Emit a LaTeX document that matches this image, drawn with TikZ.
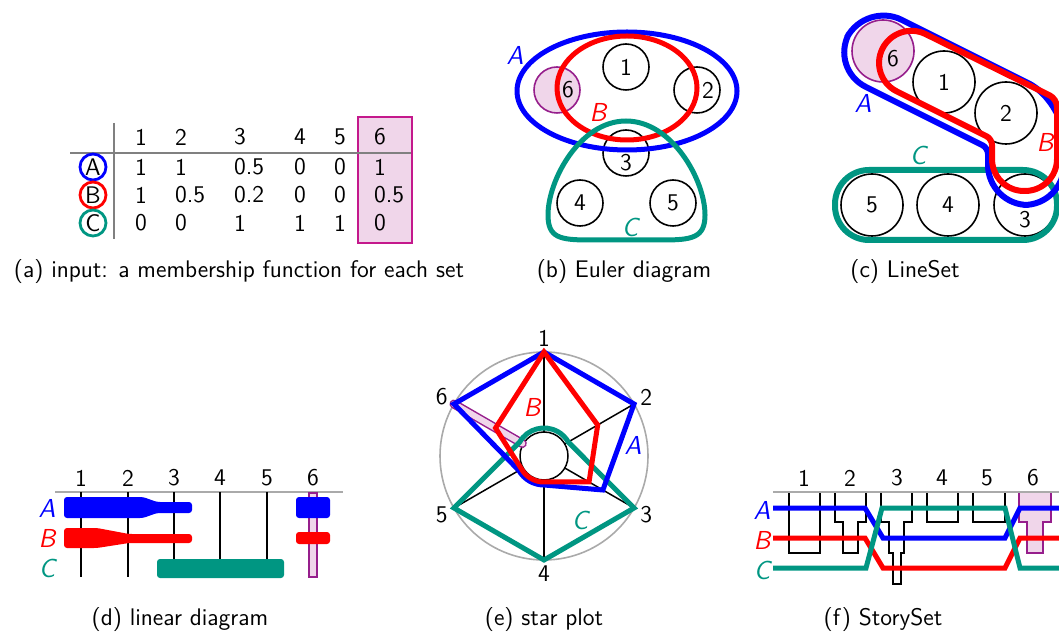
\documentclass[tikz,border=0pt]{standalone}
\usepackage{tikz}
\usetikzlibrary{arrows.meta, calc}
\definecolor{setblue}{RGB}{0,0,255}
\definecolor{setred}{RGB}{255,0,0}
\definecolor{setgreen}{RGB}{0,150,130}
\definecolor{sixfill}{RGB}{240,214,234}
\definecolor{sixline}{RGB}{150,30,140}
\definecolor{boxline}{RGB}{196,24,140}
\definecolor{rulegray}{RGB}{128,128,128}
\definecolor{axisgray}{RGB}{170,170,170}

\begin{document}
\begin{tikzpicture}[x=0.5pt, y=-0.5pt, font=\sffamily\fontsize{12}{14}\selectfont,
  elem/.style={circle, draw=black, line width=0.8pt, minimum size=23pt, inner sep=0pt},
  bigelem/.style={elem, minimum size=31pt},
  six/.style={fill=sixfill, draw=sixline},
  setlab/.style={font=\sffamily\itshape\fontsize{13}{15}\selectfont},
  setA/.style={setblue, line width=2.5pt},
  setB/.style={setred, line width=2.5pt},
  setC/.style={setgreen, line width=2.5pt},
  ring/.style={circle, line width=1.4pt, minimum size=13pt, inner sep=0pt},
  glyph/.style={black, line width=0.9pt}]

  \useasboundingbox (0,0) rectangle (1059,635);
  \clip (0,0) rectangle (1059,635);

  % ---------- (a) membership table ----------
  \filldraw[fill=sixfill, draw=boxline, line width=0.8pt] (358,117) rectangle (412,243);
  \draw[rulegray, line width=0.8pt] (114,123) -- (114,239);
  \draw[rulegray, line width=0.8pt] (70,153) -- (411,153);
  \foreach \c/\x in {1/128,2/168,3/227,4/287,5/327,6/367}
    \node[anchor=west] (h\c) at (\x,137) {\c};
  \foreach \s/\y/\vals in {A/167/{1,1,0.5,0,0,1}, B/195/{1,0.5,0.2,0,0,0.5}, C/223/{0,0,1,1,1,0}}
    \foreach \v [count=\c] in \vals {
      \pgfmathsetmacro\xx{{128,168,227,287,327,367}[\c-1]}
      \node[anchor=west] (\s\c) at (\xx,\y) {\v};
    }
  \node[ring, draw=setblue] (markA) at (93,167) {A};
  \node[ring, draw=setred] (markB) at (93,195) {B};
  \node[ring, draw=setgreen] (markC) at (93,223) {C};
  \node (capa) at (239,272) {(a) input: a membership function for each set};

  % ---------- (b) Euler diagram ----------
  \node[elem] (e1) at (626,67) {};
  \node[elem] (e2) at (697,90) {};
  \node[elem] (e3) at (626,153) {};
  \node[elem] (e4) at (580,203) {};
  \node[elem] (e5) at (673,203) {};
  \node[elem, six] (e6) at (557,90) {};
  \node (e1n) at (626,67) {1};
  \node (e2n) at (708,90) {2};
  \node (e3n) at (626,163) {3};
  \node (e4n) at (580,203) {4};
  \node (e5n) at (673,203) {5};
  \node (e6n) at (568,90) {6};
  \draw[setA] (627,91) ellipse [x radius=110, y radius=59];
  \draw[setB] (627,88) ellipse [x radius=70, y radius=52];
  \draw[setC] (626,121) .. controls (580,121) and (548,180) .. (548,215)
    .. controls (548,238) and (560,240) .. (590,240) -- (662,240)
    .. controls (692,240) and (705,238) .. (705,215)
    .. controls (705,180) and (672,121) .. (626,121) -- cycle;
  \node[setlab, setblue] (eA) at (515,55) {A};
  \node[setlab, setred] (eB) at (598,112) {B};
  \node[setlab, setgreen] (eC) at (630,227) {C};
  \node (capb) at (624,272) {(b) Euler diagram};

  % ---------- (c) LineSet ----------
  \node[bigelem, six] (l6) at (883,51) {};
  \node[bigelem] (l1) at (944,82) {};
  \node[bigelem] (l2) at (1006,113) {};
  \node[bigelem] (l5) at (872,205) {};
  \node[bigelem] (l4) at (948,205) {};
  \node[bigelem] (l3) at (1025,205) {};
  \node (l6n) at (893,59) {6};
  \node (l1n) at (944,82) {1};
  \node (l2n) at (1006,113) {2};
  \node (l5n) at (872,205) {5};
  \node (l4n) at (948,205) {4};
  \node (l3n) at (1025,220) {3};
  \draw[setC, line width=3pt, rounded corners=17pt] (835,170) rectangle (1057,240);
  \draw[setA, line width=3pt, rounded corners=20pt] (866,2) -- (1064,101) -- (1064,205)
    -- (988,205) [rounded corners=3pt] -- (988,148) [rounded corners=20pt] -- (830,69) -- cycle;
  \draw[setB, line width=3pt, rounded corners=16pt] (897,20) [rounded corners=4pt] -- (1057,99)
    [rounded corners=16pt] -- (1057,191) -- (992,191) [rounded corners=3pt] -- (992,139)
    [rounded corners=16pt] -- (868,77) -- cycle;
  \node[setlab, setblue] (lA) at (863,103) {A};
  \node[setlab, setred] (lB) at (1045,142) {B};
  \node[setlab, setgreen] (lC) at (918,155) {C};
  \node (capc) at (905,272) {(c) LineSet};

  % ---------- (d) linear diagram ----------
  \draw[axisgray, line width=0.8pt] (55,492) -- (343,492);
  \foreach \c/\x in {1/81,2/128,3/174,4/220,5/267,6/313}
    \node (d\c) at (\x,478) {\c};
  \draw[black, line width=1pt] (81,492) -- (81,577);
  \draw[black, line width=1pt] (128,492) -- (128,577);
  \foreach \x in {174,220,267}
    \draw[black, line width=1pt] (\x,492) -- (\x,560);
  \filldraw[fill=sixfill, draw=sixline, line width=0.8pt] (309,493) rectangle (317,577);
  \fill[setblue, rounded corners=1.5pt] (64,497) -- (143,497) -- (157,502) -- (192,502)
    -- (192,513) -- (157,513) -- (143,518) -- (64,518) -- cycle;
  \fill[setblue, rounded corners=1.5pt] (296,497) rectangle (330,518);
  \fill[setred, rounded corners=1.5pt] (64,528) -- (97,528) -- (129,534) -- (192,534)
    -- (192,543) -- (129,543) -- (97,548) -- (64,548) -- cycle;
  \fill[setred, rounded corners=1.5pt] (296,532) rectangle (330,544);
  \fill[setgreen, rounded corners=1.5pt] (157,559) rectangle (284,578);
  \node[setlab, setblue] (dA) at (47,508) {A};
  \node[setlab, setred] (dB) at (47,538) {B};
  \node[setlab, setgreen] (dC) at (47,568) {C};
  \node (capd) at (180,620) {(d) linear diagram};

  % ---------- (e) star plot ----------
  \begin{scope}[shift={(544,456)}, yscale=-1]
    \draw[axisgray, line width=0.8pt] (0,0) circle (104);
    \foreach \a in {90,30,-30,-90,210,150}
      \draw[black, line width=0.75pt] (\a:24) -- (\a:104);
    \draw[black, fill=white, line width=0.75pt] (0,0) circle (24);
    % element 6
    \draw[sixline, line width=4.5pt, line cap=round] (150:104) -- (150:25);
    \draw[sixfill, line width=3pt, line cap=round] (150:104) -- (150:25);
    % sets
    \draw[setC] (-30:104) -- (-90:104) -- (210:104) -- (150:28)
      arc[start angle=150, end angle=30, radius=28] -- cycle;
    \draw[setA] (90:104) -- (30:104) -- (-30:68) -- (-90:29)
      arc[start angle=-90, end angle=-150, radius=29] -- (150:104) -- cycle;
    \draw[setB] (90:104) -- (30:62) -- (-30:52) -- (-90:26)
      arc[start angle=-90, end angle=-150, radius=26] -- (150:56) -- cycle;
    \foreach \a/\n in {90/1,30/2,-30/3,-90/4,210/5,150/6}
      \node (s\n) at (\a:118) {\n};
    \node[setlab, setblue] (sA) at (89,11) {A};
    \node[setlab, setred] (sB) at (-12,49) {B};
    \node[setlab, setgreen] (sC) at (36,-64) {C};
  \end{scope}
  \node (cape) at (544,620) {(e) star plot};

  % ---------- (f) StorySet ----------
  \fill[sixfill] (1019,492) -- (1019,522) -- (1027,522) -- (1027,553) -- (1043,553)
    -- (1043,522) -- (1051,522) -- (1051,492) -- cycle;
  \draw[sixline, line width=0.9pt] (1019,492) -- (1019,522) -- (1027,522) -- (1027,553)
    -- (1043,553) -- (1043,522) -- (1051,522) -- (1051,492);
  \draw[glyph] (789,492) -- (789,553) -- (820,553) -- (820,492);
  \draw[glyph] (835,492) -- (835,522) -- (843,522) -- (843,553) -- (858,553)
    -- (858,522) -- (866,522) -- (866,492);
  \draw[glyph] (881,492) -- (881,522) -- (889,522) -- (889,553) -- (893,553) -- (893,584)
    -- (901,584) -- (901,553) -- (904,553) -- (904,522) -- (912,522) -- (912,492);
  \draw[glyph] (927,492) -- (927,522) -- (958,522) -- (958,492);
  \draw[glyph] (973,492) -- (973,522) -- (1005,522) -- (1005,492);
  \draw[axisgray, line width=0.8pt] (773,492) -- (1070,492);
  \foreach \c/\x in {1/804,2/850,3/897,4/942,5/987,6/1033}
    \node (f\c) at (\x,478) {\c};
  \draw[setA] (773,508) -- (865,508) -- (883,538) -- (1005,538) -- (1020,508) -- (1070,508);
  \draw[setB] (773,538) -- (865,538) -- (883,568) -- (1005,568) -- (1020,538) -- (1070,538);
  \draw[setC] (773,568) -- (866,568) -- (882,508) -- (1005,508) -- (1020,568) -- (1070,568);
  \node[setlab, setblue] (fA) at (762,510) {A};
  \node[setlab, setred] (fB) at (762,540) {B};
  \node[setlab, setgreen] (fC) at (762,570) {C};
  \node (capf) at (883,620) {(f) StorySet};

\end{tikzpicture}
\end{document}
